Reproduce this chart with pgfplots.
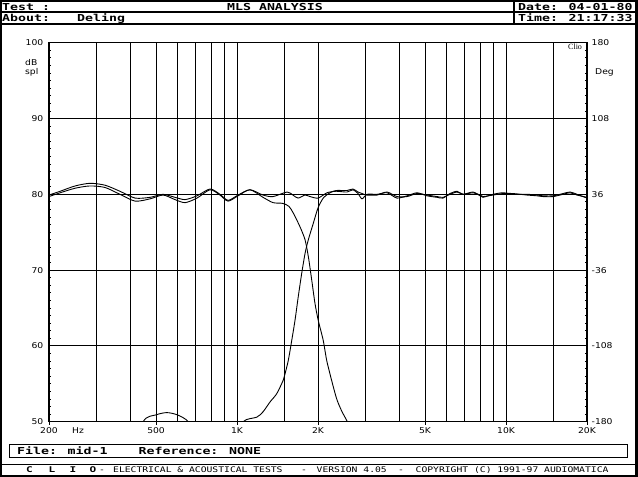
\documentclass[border=0pt]{standalone}
\usepackage{pgfplots}
\pgfplotsset{compat=1.18}
\usepackage{fontspec}
\usepackage{graphicx}
\setmainfont{Liberation Sans}
\newfontfamily\hdfont{DejaVu Sans Mono}
\newfontfamily\tkfont{DejaVu Sans}
\newfontfamily\cliofont{Liberation Serif}
\newcommand\hd[1]{\scalebox{1.38}[1]{\fontsize{9.6}{10}\selectfont\hdfont\bfseries #1}}
\newcommand\ft[1]{\scalebox{1.26}[1]{\fontsize{7.7}{8}\selectfont\hdfont #1}}
\newcommand\ftb[1]{\scalebox{1.4}[1]{\fontsize{7.9}{8}\selectfont\hdfont\bfseries #1}}
\newcommand\tk[1]{\scalebox{1.15}[1]{\fontsize{8}{8}\selectfont\tkfont #1}}
\begin{document}
\begin{tikzpicture}[x=1pt,y=1pt]
\useasboundingbox (0,0) rectangle (638,477);
% frame and header/footer boxes
\draw[line width=2pt] (1,1) rectangle (637,476);
\draw[line width=3pt] (636.5,0) -- (636.5,477);
\draw[line width=1.4pt] (0,464.8) -- (638,464.8);
\draw[line width=1.8pt] (0,452.7) -- (638,452.7);
\draw[line width=1.2pt] (514,477) -- (514,452.7);
\draw[line width=1.2pt] (9.2,32.5) rectangle (627.5,19.8);
\draw[line width=1.3pt] (0,12.7) -- (638,12.7);
% header text
\node[anchor=base west,inner sep=0] at (2,466.5) {\hd{Test :}};
\node[anchor=base,inner sep=0] at (275,466.5) {\hd{MLS ANALYSIS}};
\node[anchor=base west,inner sep=0] at (518,466.5) {\hd{Date: 04-01-80}};
\node[anchor=base west,inner sep=0] at (2,455) {\hd{About:}};
\node[anchor=base west,inner sep=0] at (77,455) {\hd{Deling}};
\node[anchor=base west,inner sep=0] at (518,455) {\hd{Time: 21:17:33}};
% file box
\node[anchor=base west,inner sep=0] at (17,22) {\hd{File: mid-1}};
\node[anchor=base west,inner sep=0] at (138.5,22) {\hd{Reference: NONE}};
% footer
\node[anchor=base west,inner sep=0] at (26,4.7) {\ftb{C}};
\node[anchor=base west,inner sep=0] at (48.5,4.7) {\ftb{L}};
\node[anchor=base west,inner sep=0] at (69.5,4.7) {\ftb{I}};
\node[anchor=base west,inner sep=0] at (89.5,4.7) {\ftb{O}};
\node[anchor=base west,inner sep=0] at (99,4.7) {\ft{-}};
\node[anchor=base west,inner sep=0] at (113,4.7) {\ft{ELECTRICAL \& ACOUSTICAL TESTS}};
\node[anchor=base west,inner sep=0] at (301,4.7) {\ft{-}};
\node[anchor=base west,inner sep=0] at (316.5,4.7) {\ft{VERSION 4.05}};
\node[anchor=base west,inner sep=0] at (398,4.7) {\ft{-}};
\node[anchor=base west,inner sep=0] at (415.5,4.7) {\ft{COPYRIGHT (C) 1991-97 AUDIOMATICA}};
% axis side labels
\node[anchor=base west,inner sep=0] at (25,411.3) {\tk{dB}};
\node[anchor=base west,inner sep=0] at (25,402.5) {\tk{spl}};
\node[anchor=base west,inner sep=0] at (595,402.7) {\tk{Deg}};
\node[anchor=base west,inner sep=0] at (568,427.7) {{\fontsize{8}{8}\selectfont\cliofont Clio}};
\node[anchor=base west,inner sep=0] at (72,43.2) {\tk{Hz}};

\begin{axis}[
  at={(49pt,55.3pt)}, anchor=south west, scale only axis,
  width=538pt, height=379pt,
  xmode=log, log basis x=10,
  xmin=200, xmax=20000, ymin=50, ymax=100,
  xtick={200,500,1000,2000,5000,10000,20000},
  xticklabels={\tk{200},\tk{500},\tk{1K},\tk{2K},\tk{5K},\tk{10K},\tk{20K}},
  minor xtick={300,400,600,700,800,900,1500,3000,4000,6000,7000,8000,9000,15000},
  xmajorgrids, xminorgrids, ymajorgrids,
  ytick={50,60,70,80,90,100},
  yticklabels={\tk{50},\tk{60},\tk{70},\tk{80},\tk{90},\tk{100}},
  minor y tick num=9,
  tick align=inside, major tick length=0pt, minor tick length=2pt,
  xtick pos=bottom, ytick pos=left,
  grid style={black, line width=0.9pt},
  major grid style={black, line width=0.9pt},
  minor grid style={black, line width=0.9pt},
  axis line style={line width=1.3pt},
  tick style={black, line width=0.8pt},
  xticklabel style={anchor=north, inner sep=0pt, yshift=-6pt},
  yticklabel style={anchor=east, inner sep=0pt, xshift=-5.5pt},
]
% sum response
\addplot[black, line width=0.9pt, smooth, tension=0.45] coordinates {
(200,79.9)(220,80.4)(250,81.1)(284,81.45)(323,81.2)(367,80.4)(418,79.5)(475,79.6)
(531,80.0)(588,79.6)(641,79.3)(710,79.8)(794,80.7)(864,80.0)(926,79.2)(1009,79.9)
(1117,80.6)(1249,79.9)(1361,79.7)(1534,80.3)(1614,79.9)(1685,79.5)(1790,79.9)(1868,79.7)
(2000,79.5)(2160,80.2)(2333,80.4)(2564,80.3)(2698,80.6)(2816,80.1)(2915,79.4)(3042,80.0)
(3314,80.0)(3610,80.2)(3934,79.5)(4285,79.8)(4667,80.2)(5085,79.8)(5540,79.6)(5830,79.5)
(6190,80.1)(6575,80.4)(6918,80.0)(7540,80.3)(8005,79.8)(8211,79.6)(8946,80.0)(9744,80.2)
(10616,80.0)(11968,80.0)(13038,79.9)(13724,79.8)(14948,79.8)(16286,80.1)(17294,80.3)
(18358,80.0)(20000,79.5)};
% low-pass section
\addplot[black, line width=0.9pt, smooth, tension=0.45] coordinates {
(200,79.7)(220,80.2)(250,80.8)(284,81.1)(323,80.9)(367,80.0)(418,79.1)(475,79.4)
(531,79.9)(588,79.3)(641,78.9)(710,79.5)(794,80.6)(864,79.9)(926,79.1)(1009,79.8)
(1117,80.6)(1249,79.6)(1361,78.9)(1480,78.8)(1560,78.4)(1620,77.5)(1715,75.7)(1790,74.0)
(1841,71.8)(1895,68.7)(1949,65.6)(2003,63.4)(2092,60.7)(2154,58.1)(2249,55.4)(2347,53.0)
(2450,51.4)(2571,50.0)(2700,48.3)(2900,46.0)};
% high-pass section
\addplot[black, line width=0.9pt, smooth, tension=0.45] coordinates {
(400,44)(448,50)(500,50.9)(548,51.2)(600,50.9)(659,50)(720,47.5)(800,44)(900,43)
(1000,47)(1055,50)(1184,50.6)(1249,51.3)(1326,52.6)(1405,53.7)(1486,55.5)(1508,56.3)
(1551,58.1)(1597,60.7)(1643,63.4)(1689,66.5)(1740,69.6)(1790,72.2)(1841,74.0)(1922,76.2)
(2000,78.2)(2092,79.5)(2216,80.2)(2333,80.5)(2564,80.5)(2698,80.7)(2816,80.3)(2915,80.1)
(3042,79.9)(3314,79.9)(3610,80.3)(3934,79.7)(4285,79.7)(4667,80.1)(5085,79.9)(5540,79.7)
(5830,79.6)(6190,80.0)(6575,80.3)(6918,80.0)(7540,80.2)(8005,79.9)(8211,79.7)(8946,79.9)
(9744,80.1)(10616,80.1)(11968,79.9)(13038,79.8)(13724,79.7)(14948,79.7)(16286,80.0)
(17294,80.2)(18358,79.9)(20000,79.6)};
\end{axis}

\begin{axis}[
  at={(49pt,55.3pt)}, anchor=south west, scale only axis,
  width=538pt, height=379pt,
  xmin=0, xmax=1, ymin=-180, ymax=180,
  hide x axis,
  ytick={-180,-108,-36,36,108,180},
  yticklabels={\tk{-180},\tk{-108},\tk{-36},\tk{36},\tk{108},\tk{180}},
  ytick pos=right, minor y tick num=9,
  tick align=inside, major tick length=0pt, minor tick length=2pt,
  axis line style={line width=1.3pt},
  tick style={black, line width=0.8pt},
  yticklabel style={anchor=west, inner sep=0pt, xshift=4.5pt},
]
\end{axis}

\begin{axis}[
  at={(49pt,55.3pt)}, anchor=south west, scale only axis,
  width=538pt, height=379pt,
  xmode=log, xmin=200, xmax=20000, ymin=0, ymax=1,
  hide y axis,
  xtick={200,500,1000,2000,5000,10000,20000},
  xticklabels={},
  xtick pos=bottom,
  tick align=outside, major tick length=3pt,
  axis line style={line width=1.3pt},
  tick style={black, line width=0.9pt},
]
\end{axis}
\end{tikzpicture}
\end{document}
